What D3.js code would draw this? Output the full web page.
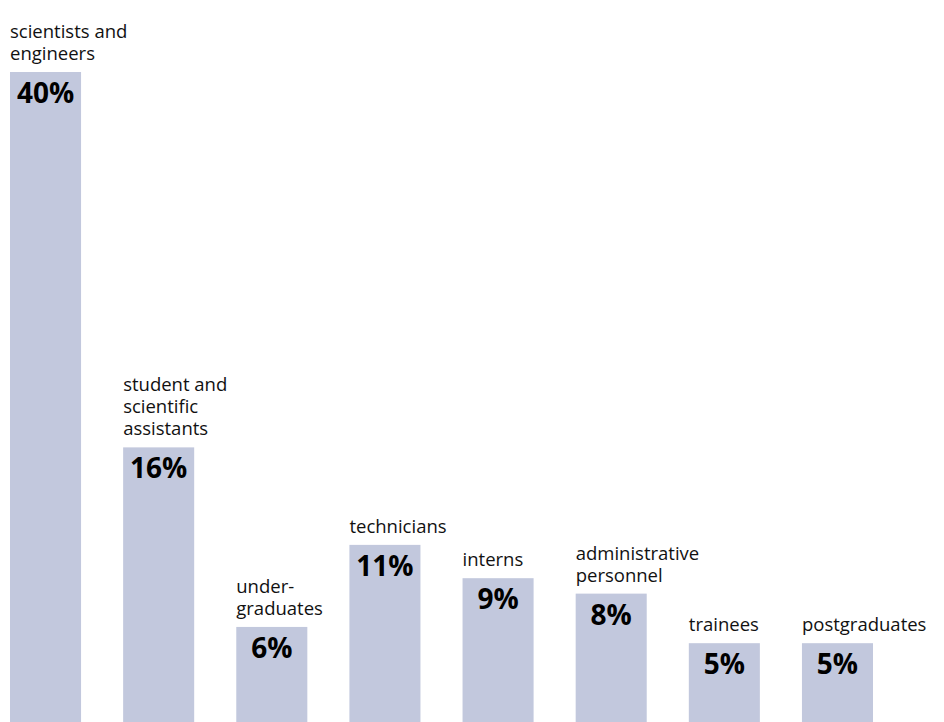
<!DOCTYPE html>
<html>
<head>
<meta charset="utf-8">
<script src="https://cdn.jsdelivr.net/npm/d3@7"></script>
<style>
  body { margin: 0; background: #fff; }
  svg { display: block; }
  .cat { font-family: "Open Sans", sans-serif; font-size: 18.5px; fill: #111; }
  .pct { font-family: "Open Sans", sans-serif; font-size: 28px; font-weight: bold; fill: #000; }
</style>
</head>
<body>
<div id="chart"></div>
<script>
// Data
const categories = [
  "scientists and engineers",
  "student and scientific assistants",
  "undergraduates",
  "technicians",
  "interns",
  "administrative personnel",
  "trainees",
  "postgraduates"
];

// label lines as printed above each bar
const labelLines = [
  ["scientists and", "engineers"],
  ["student and", "scientific", "assistants"],
  ["under-", "graduates"],
  ["technicians"],
  ["interns"],
  ["administrative", "personnel"],
  ["trainees"],
  ["postgraduates"]
];

// bar heights (share of staff, %)
const shares = [40, 16.9, 5.85, 10.9, 8.85, 7.9, 4.85, 4.85];

// printed percentage labels
const pctLabels = ["40%", "16%", "6%", "11%", "9%", "8%", "5%", "5%"];

const data = categories.map((c, i) => ({
  cat: c, lines: labelLines[i], value: shares[i], pct: pctLabels[i]
}));

// Chart setup
const width = 944;
const height = 722;
const svg = d3.select('#chart')
  .append('svg')
  .attr('width', width)
  .attr('height', height);

const x = d3.scaleBand()
  .domain(categories)
  .range([10, 873])
  .paddingInner(0.372)
  .paddingOuter(0);

const y = d3.scaleLinear()
  .domain([0, 40])
  .range([height, 72]);

// Bars
svg.append('g')
  .selectAll('rect')
  .data(data)
  .enter().append('rect')
  .attr('x', d => x(d.cat))
  .attr('y', d => y(d.value))
  .attr('width', x.bandwidth())
  .attr('height', d => height - y(d.value))
  .attr('fill', '#c2c8dd');

// Percent labels inside the bars
svg.append('g')
  .selectAll('text')
  .data(data)
  .enter().append('text')
  .attr('class', 'pct')
  .attr('x', d => x(d.cat) + x.bandwidth() / 2)
  .attr('y', d => y(d.value) + 31)
  .attr('text-anchor', 'middle')
  .text(d => d.pct);

// Category labels above the bars
const lineH = 22;
const cat = svg.append('g')
  .selectAll('text')
  .data(data)
  .enter().append('text')
  .attr('class', 'cat')
  .attr('x', d => x(d.cat))
  .attr('y', d => y(d.value) - 12 - (d.lines.length - 1) * lineH);

cat.selectAll('tspan')
  .data(d => d.lines.map(l => ({ l, x: x(d.cat) })))
  .enter().append('tspan')
  .attr('x', t => t.x)
  .attr('dy', (t, i) => i === 0 ? 0 : lineH)
  .text(t => t.l);
</script>
</body>
</html>
